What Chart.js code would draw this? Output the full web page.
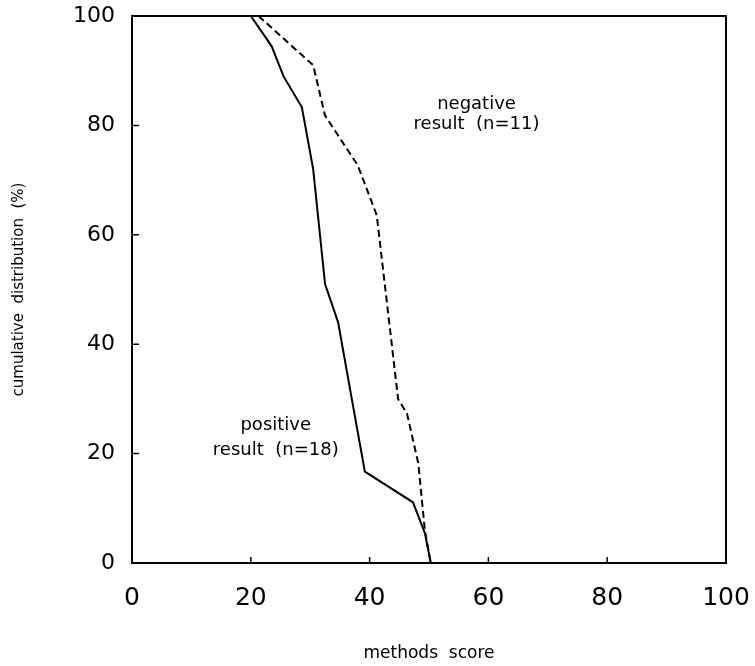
<!DOCTYPE html>
<html>
<head>
<meta charset="utf-8">
<script src="https://cdn.jsdelivr.net/npm/chart.js@4"></script>
<style>
  html, body { margin: 0; padding: 0; background: #fff; }
  #wrap { width: 755px; height: 666px; }
</style>
</head>
<body>
<div id="wrap"><canvas id="chart" width="755" height="666"></canvas></div>
<script>
// methods score vs cumulative distribution (%)
const positiveScore = [20, 23.5, 25.5, 28.6, 30.5, 32.5, 34.7, 37, 39.2, 47.3, 49.3, 50.3];
const positivePct   = [100, 94.5, 89, 83.3, 72, 51, 44, 30, 16.7, 11.1, 5.5, 0];
const negativeScore = [21.3, 30.5, 32.5, 38, 41.2, 44.8, 46.3, 48.2, 49.3, 50.3];
const negativePct   = [100, 91, 81.8, 72.7, 63.6, 30, 27.3, 18.2, 6, 0];
const tickValues = [0, 20, 40, 60, 80, 100];

const toPoints = (xs, ys) => xs.map((x, i) => ({ x: x, y: ys[i] }));

// frame, short inward tick marks and the curve labels
const extras = {
  id: 'extras',
  afterDraw(chart) {
    const ctx = chart.ctx;
    const xs = chart.scales.x, ys = chart.scales.y;
    const area = chart.chartArea;
    ctx.save();
    ctx.strokeStyle = '#000';
    ctx.lineWidth = 2;
    ctx.strokeRect(area.left, area.top, area.right - area.left, area.bottom - area.top);
    ctx.lineWidth = 1.5;
    tickValues.forEach(v => {
      const px = xs.getPixelForValue(v);
      const py = ys.getPixelForValue(v);
      ctx.beginPath();
      ctx.moveTo(px, area.bottom);
      ctx.lineTo(px, area.bottom - 6);
      ctx.moveTo(area.left, py);
      ctx.lineTo(area.left + 7, py);
      ctx.stroke();
    });

    ctx.fillStyle = '#000';
    ctx.font = '18px "DejaVu Sans"';
    ctx.textAlign = 'center';
    ctx.textBaseline = 'alphabetic';
    ctx.fillText('negative', xs.getPixelForValue(58), ys.getPixelForValue(83));
    ctx.fillText('result  (n=11)', xs.getPixelForValue(58), ys.getPixelForValue(79.3));
    ctx.fillText('positive', xs.getPixelForValue(24.2), ys.getPixelForValue(24.3));
    ctx.fillText('result  (n=18)', xs.getPixelForValue(24.2), ys.getPixelForValue(19.7));
    ctx.restore();
  }
};

new Chart(document.getElementById('chart'), {
  type: 'line',
  data: {
    datasets: [
      {
        label: 'positive result (n=18)',
        data: toPoints(positiveScore, positivePct),
        borderColor: '#000',
        borderWidth: 2,
        pointRadius: 0,
        tension: 0,
        fill: false
      },
      {
        label: 'negative result (n=11)',
        data: toPoints(negativeScore, negativePct),
        borderColor: '#000',
        borderWidth: 2,
        borderDash: [7, 4],
        pointRadius: 0,
        tension: 0,
        fill: false
      }
    ]
  },
  options: {
    responsive: false,
    animation: false,
    layout: { padding: { left: 0, top: 16, right: 29, bottom: 0 } },
    plugins: {
      legend: { display: false },
      tooltip: { enabled: false }
    },
    scales: {
      x: {
        type: 'linear',
        min: 0,
        max: 100,
        afterFit: (scale) => {
          scale.height = 103;
          scale.paddingLeft = 0;
          scale.paddingRight = 0;
        },
        afterBuildTicks: (scale) => { scale.ticks = tickValues.map(v => ({ value: v })); },
        grid: { display: false },
        border: { display: false },
        ticks: { color: '#000', padding: 12, maxRotation: 0, font: { family: 'DejaVu Sans', size: 25 } },
        title: {
          display: true,
          text: 'methods  score',
          color: '#000',
          padding: { top: 0, bottom: 2 },
          font: { family: 'DejaVu Sans', size: 17 }
        }
      },
      y: {
        type: 'linear',
        min: 0,
        max: 100,
        afterFit: (scale) => {
          scale.width = 132;
          scale.paddingTop = 0;
          scale.paddingBottom = 0;
        },
        afterBuildTicks: (scale) => { scale.ticks = tickValues.map(v => ({ value: v })); },
        grid: { display: false },
        border: { display: false },
        ticks: { color: '#000', padding: 9, font: { family: 'DejaVu Sans', size: 22 } },
        title: {
          display: true,
          text: 'cumulative  distribution  (%)',
          color: '#000',
          padding: { top: 10, bottom: 0 },
          font: { family: 'DejaVu Sans', size: 15 }
        }
      }
    }
  },
  plugins: [extras]
});
</script>
</body>
</html>
